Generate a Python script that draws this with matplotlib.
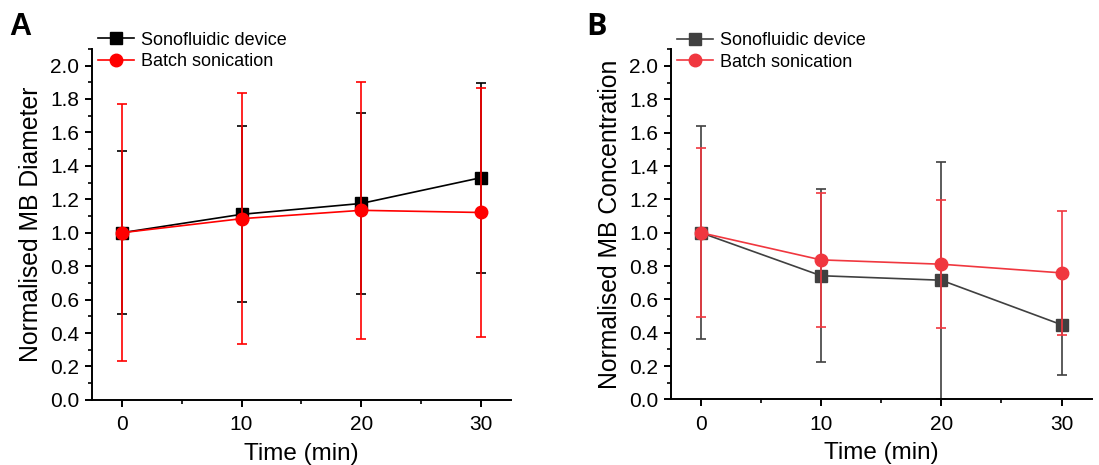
import matplotlib.pyplot as plt
from matplotlib.ticker import MultipleLocator

plt.rcParams['font.family'] = ['Liberation Sans', 'DejaVu Sans']

time = [0, 10, 20, 30]

# A: normalised diameter
diam_sono = [1.0, 1.11, 1.175, 1.329]
diam_sono_err = [0.486, 0.526, 0.541, 0.569]
diam_batch = [1.0, 1.084, 1.134, 1.121]
diam_batch_err = [0.77, 0.75, 0.77, 0.743]

# B: normalised concentration
conc_sono = [1.0, 0.742, 0.715, 0.448]
conc_sono_err = [0.638, 0.52, 0.71, 0.30]
conc_batch = [1.0, 0.837, 0.811, 0.759]
conc_batch_err = [0.505, 0.403, 0.383, 0.371]


def style_axes(ax, ylabel):
    ax.spines['top'].set_visible(False)
    ax.spines['right'].set_visible(False)
    for s in ('left', 'bottom'):
        ax.spines[s].set_linewidth(1.4)
    ax.set_xlim(-2.5, 32.5)
    ax.set_xticks(time)
    ax.xaxis.set_minor_locator(MultipleLocator(5))
    ax.set_yticks([0.0, 0.2, 0.4, 0.6, 0.8, 1.0, 1.2, 1.4, 1.6, 1.8, 2.0])
    ax.yaxis.set_minor_locator(MultipleLocator(0.1))
    ax.set_ylim(0, 2.1)
    ax.yaxis.set_major_formatter(plt.FormatStrFormatter('%.1f'))
    ax.tick_params(which='major', direction='out', length=5, width=1.4,
                   labelsize=15, pad=4)
    ax.tick_params(axis='x', which='major', pad=6)
    ax.tick_params(which='minor', direction='out', length=3, width=1.2)
    ax.set_xlabel('Time (min)', fontsize=17.5, labelpad=6)
    ax.set_ylabel(ylabel, fontsize=17.8, labelpad=5)


fig = plt.figure(figsize=(10.99, 4.65), dpi=100)
ax1 = fig.add_axes([0.0837, 0.140, 0.381, 0.755])
ax2 = fig.add_axes([0.6103, 0.141, 0.383, 0.753])

ax1.errorbar(time, diam_sono, yerr=diam_sono_err, color='black', marker='s',
             markersize=8, lw=1.2, elinewidth=1.2, capsize=3.4, capthick=1.2,
             label='Sonofluidic device', zorder=2)
ax1.errorbar(time, diam_batch, yerr=diam_batch_err, color='#ff0000', marker='o',
             markersize=9, lw=1.2, elinewidth=1.2, capsize=3.4, capthick=1.2,
             label='Batch sonication', zorder=3)
style_axes(ax1, 'Normalised MB Diameter')

ax2.errorbar(time, conc_sono, yerr=conc_sono_err, color='#404040', marker='s',
             markersize=8, lw=1.2, elinewidth=1.2, capsize=3.4, capthick=1.2,
             label='Sonofluidic device', zorder=2)
ax2.errorbar(time, conc_batch, yerr=conc_batch_err, color='#f0373f', marker='o',
             markersize=9, lw=1.2, elinewidth=1.2, capsize=3.4, capthick=1.2,
             label='Batch sonication', zorder=3)
style_axes(ax2, 'Normalised MB Concentration')

for ax in (ax1, ax2):
    h, l = ax.get_legend_handles_labels()
    h = [x[0] for x in h]
    ax.legend(h, l, loc='upper left', bbox_to_anchor=(-0.012, 1.08), frameon=False,
              fontsize=13, handlelength=2.0, handletextpad=0.4,
              labelspacing=0.25, borderaxespad=0.2)

fig.text(0.008, 0.925, 'A', fontsize=22, fontweight='bold')
fig.text(0.533, 0.925, 'B', fontsize=22, fontweight='bold',
         family=['Open Sans', 'DejaVu Sans'])

fig.savefig('out.png', dpi=100)
